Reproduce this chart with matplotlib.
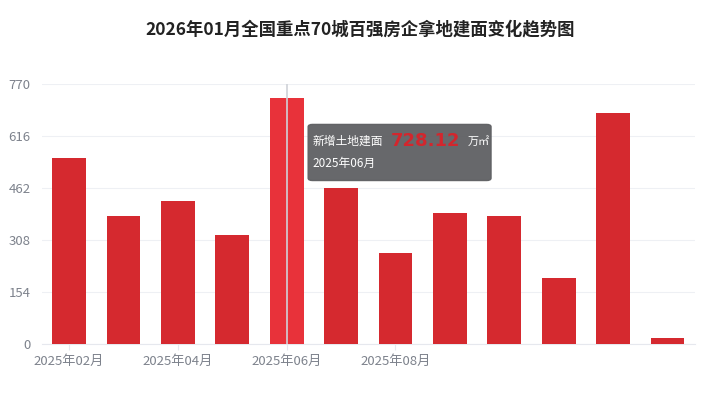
import matplotlib
matplotlib.use("Agg")
import matplotlib.pyplot as plt
from matplotlib.patches import FancyBboxPatch

plt.rcParams['font.family'] = ['Noto Sans CJK SC', 'DejaVu Sans']

months = ["2025年02月", "2025年03月", "2025年04月", "2025年05月", "2025年06月", "2025年07月",
          "2025年08月", "2025年09月", "2025年10月", "2025年11月", "2025年12月", "2026年01月"]
values = [549.8, 378.6, 424.0, 322.0, 728.12, 460.8, 268.0, 388.0, 379.5, 195.5, 685.0, 15.7]
y_ticks = [0, 154, 308, 462, 616, 770]
shown_labels = ["2025年02月", "2025年04月", "2025年06月", "2025年08月"]
title = "2026年01月全国重点70城百强房企拿地建面变化趋势图"
highlight = "2025年06月"
series_name = "新增土地建面"
unit = "万㎡"

fig = plt.figure(figsize=(7.2, 3.95), dpi=100)
ax = fig.add_axes([0.058, 0.130, 0.907, 0.657])

x = list(range(len(months)))
colors = ['#e8323a' if m == highlight else '#d5292f' for m in months]
ax.bar(x, values, width=0.62, color=colors, zorder=3)

ax.set_xlim(-0.5, len(months) - 0.5)
ax.set_ylim(0, 770)
ax.set_yticks(y_ticks)
ax.set_yticklabels([str(t) for t in y_ticks], color='#7d828c', fontsize=9.5)
ax.yaxis.grid(True, color='#eef0f4', linewidth=0.8, zorder=0)
ax.tick_params(axis='y', length=0, pad=8)

tick_pos = [months.index(m) for m in shown_labels]
ax.set_xticks(tick_pos)
ax.set_xticklabels(shown_labels, color='#7d828c', fontsize=9.5)
ax.tick_params(axis='x', length=4, color='#e6e8ee', pad=4)

for s in ['top', 'right', 'left']:
    ax.spines[s].set_visible(False)
ax.spines['bottom'].set_color('#e6e8ee')

hi = months.index(highlight)
ax.axvline(hi, color='#cfd2d8', linewidth=1.2, zorder=4)

fig.text(0.5, 0.925, title, ha='center', va='center', fontsize=12.5,
         fontweight='bold', color='#222222')

# tooltip
box = FancyBboxPatch((0.428, 0.543), 0.254, 0.142, boxstyle="round,pad=0,rounding_size=0.006",
                     transform=fig.transFigure, facecolor='#5f6063', edgecolor='#5f6063',
                     alpha=0.95, zorder=10)
fig.patches.append(box)
fig.text(0.434, 0.642, series_name, ha='left', va='center', fontsize=8.5, color='white', zorder=11)
fig.text(0.543, 0.642, f"{values[hi]:.2f}", ha='left', va='center', fontsize=13,
         fontweight='bold', color='#d3262d', zorder=11, family=['DejaVu Sans'])
fig.text(0.649, 0.642, unit, ha='left', va='center', fontsize=8, color='white', zorder=11,
         family=['Noto Sans CJK SC', 'DejaVu Sans'])
fig.text(0.434, 0.585, highlight, ha='left', va='center', fontsize=8.5, color='white', zorder=11)

fig.savefig("out.png", dpi=100, facecolor='white')
